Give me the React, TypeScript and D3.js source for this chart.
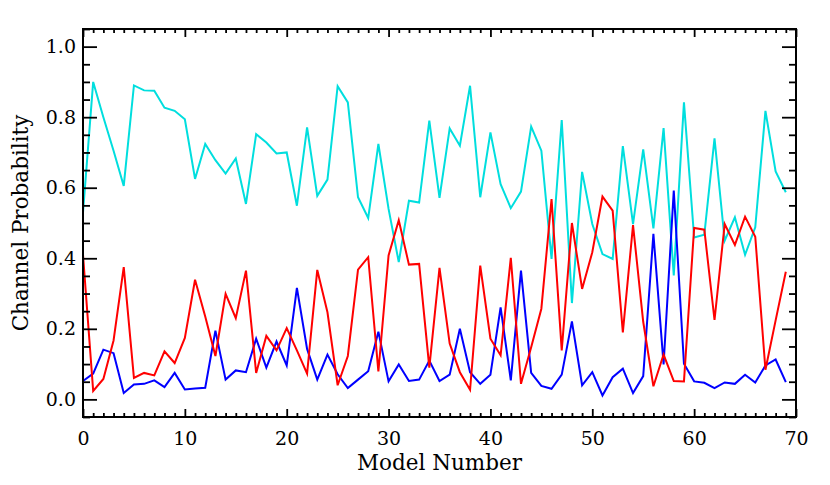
import * as d3 from "d3";
import { useEffect, useRef } from "react";

// probability of each channel per model (models 0..69)
const cyanSeries = [
  0.53, 0.9, 0.8, 0.705, 0.605, 0.89, 0.876, 0.875, 0.827, 0.818,
  0.794, 0.625, 0.724, 0.678, 0.64, 0.683, 0.554, 0.752, 0.728, 0.697,
  0.7, 0.549, 0.771, 0.577, 0.623, 0.888, 0.842, 0.573, 0.514, 0.724,
  0.54, 0.389, 0.563, 0.558, 0.79, 0.571, 0.768, 0.719, 0.889, 0.573,
  0.757, 0.61, 0.542, 0.589, 0.773, 0.705, 0.398, 0.792, 0.273, 0.645,
  0.497, 0.412, 0.398, 0.718, 0.497, 0.709, 0.485, 0.769, 0.351, 0.842,
  0.459, 0.467, 0.74, 0.45, 0.516, 0.41, 0.488, 0.818, 0.646, 0.587,
];
const redSeries = [
  0.41, 0.024, 0.058, 0.167, 0.375, 0.061, 0.075, 0.068, 0.136, 0.103,
  0.174, 0.339, 0.235, 0.123, 0.299, 0.23, 0.365, 0.075, 0.18, 0.139,
  0.202, 0.139, 0.073, 0.367, 0.247, 0.04, 0.123, 0.368, 0.403, 0.079,
  0.408, 0.508, 0.382, 0.384, 0.09, 0.373, 0.158, 0.077, 0.027, 0.379,
  0.172, 0.125, 0.401, 0.044, 0.148, 0.257, 0.568, 0.139, 0.5, 0.313,
  0.417, 0.575, 0.535, 0.19, 0.494, 0.22, 0.037, 0.127, 0.052, 0.051,
  0.486, 0.481, 0.225, 0.497, 0.438, 0.518, 0.461, 0.084, 0.224, 0.362,
];
const blueSeries = [
  0.052, 0.073, 0.141, 0.131, 0.018, 0.042, 0.044, 0.054, 0.035, 0.075,
  0.028, 0.031, 0.033, 0.195, 0.056, 0.082, 0.077, 0.172, 0.09, 0.164,
  0.096, 0.316, 0.143, 0.056, 0.127, 0.071, 0.032, 0.056, 0.08, 0.192,
  0.051, 0.099, 0.052, 0.056, 0.11, 0.052, 0.07, 0.2, 0.077, 0.044,
  0.07, 0.261, 0.054, 0.365, 0.075, 0.038, 0.03, 0.07, 0.221, 0.04,
  0.077, 0.011, 0.063, 0.087, 0.018, 0.066, 0.469, 0.099, 0.592, 0.101,
  0.051, 0.047, 0.032, 0.048, 0.044, 0.07, 0.048, 0.096, 0.113, 0.049,
];

const xMajorTicks = [0, 10, 20, 30, 40, 50, 60, 70];
const yMajorTicks = [0, 0.2, 0.4, 0.6, 0.8, 1.0];

const series = [
  { name: "cyan", values: cyanSeries, color: "#00dede" },
  { name: "blue", values: blueSeries, color: "#0000ff" },
  { name: "red", values: redSeries, color: "#ff0000" },
];

const W = 830;
const H = 485;
const FONT = "'DejaVu Serif', serif";

export default function App() {
  const svgRef = useRef<SVGSVGElement>(null);

  useEffect(() => {
    if (!svgRef.current) return;
    const svg = d3.select(svgRef.current);
    svg.selectAll("*").remove();

    const left = 83;
    const right = 796;
    const top = 29;
    const bottom = 417;

    const x = d3.scaleLinear().domain([0, 70]).range([left, right]);
    const y = d3.scaleLinear().domain([-0.05, 1.05]).range([bottom, top]);

    const xMinor = d3.range(0, 71, 1).filter((v) => v % 10 !== 0);
    const yMinor = d3.range(-0.05, 1.051, 0.05).map((v) => +v.toFixed(2)).filter((v) => Math.abs(v * 5 - Math.round(v * 5)) > 1e-6);

    const styleAxis = (g: any) => {
      g.select(".domain").remove();
      g.selectAll(".tick line").attr("stroke", "#000").attr("stroke-width", 1.8);
      g.selectAll("text").attr("fill", "#000").attr("font-family", FONT).attr("font-size", 19);
    };

    // lines
    const line = d3
      .line<number>()
      .x((_, i) => x(i))
      .y((d) => y(d));

    series.forEach((s) => {
      svg
        .append("path")
        .datum(s.values)
        .attr("fill", "none")
        .attr("stroke", s.color)
        .attr("stroke-width", 2)
        .attr("stroke-linejoin", "miter")
        .attr("d", line);
    });

    // left axis
    svg.append("g").attr("transform", `translate(${left},0)`)
      .call(d3.axisLeft(y).tickValues(yMajorTicks).tickSize(-14).tickPadding(7).tickFormat(d3.format(".1f")))
      .call(styleAxis);
    svg.append("g").attr("transform", `translate(${left},0)`)
      .call(d3.axisLeft(y).tickValues(yMinor).tickSize(-7).tickFormat(() => ""))
      .call(styleAxis);
    // right axis
    svg.append("g").attr("transform", `translate(${right},0)`)
      .call(d3.axisRight(y).tickValues(yMajorTicks).tickSize(-14).tickFormat(() => ""))
      .call(styleAxis);
    svg.append("g").attr("transform", `translate(${right},0)`)
      .call(d3.axisRight(y).tickValues(yMinor).tickSize(-7).tickFormat(() => ""))
      .call(styleAxis);
    // bottom axis
    svg.append("g").attr("transform", `translate(0,${bottom})`)
      .call(d3.axisBottom(x).tickValues(xMajorTicks).tickSize(-8).tickPadding(15).tickFormat(d3.format("d")))
      .call(styleAxis);
    svg.append("g").attr("transform", `translate(0,${bottom})`)
      .call(d3.axisBottom(x).tickValues(xMinor).tickSize(-4).tickFormat(() => ""))
      .call(styleAxis);
    // top axis
    svg.append("g").attr("transform", `translate(0,${top})`)
      .call(d3.axisTop(x).tickValues(xMajorTicks).tickSize(-8).tickFormat(() => ""))
      .call(styleAxis);
    svg.append("g").attr("transform", `translate(0,${top})`)
      .call(d3.axisTop(x).tickValues(xMinor).tickSize(-4).tickFormat(() => ""))
      .call(styleAxis);

    // frame
    svg.append("rect")
      .attr("x", left)
      .attr("y", top)
      .attr("width", right - left)
      .attr("height", bottom - top)
      .attr("fill", "none")
      .attr("stroke", "#000")
      .attr("stroke-width", 2);

    // axis titles
    svg.append("text")
      .attr("x", (left + right) / 2)
      .attr("y", 470)
      .attr("text-anchor", "middle")
      .attr("font-family", FONT)
      .attr("font-size", 21.5)
      .attr("fill", "#000")
      .text("Model Number");

    svg.append("text")
      .attr("transform", `translate(28,${(top + bottom) / 2}) rotate(-90)`)
      .attr("text-anchor", "middle")
      .attr("font-family", FONT)
      .attr("font-size", 21.5)
      .attr("fill", "#000")
      .text("Channel Probability");
  }, []);

  return (
    <div style={{ position: "fixed", left: 0, top: 0, background: "#fff" }}>
      <svg ref={svgRef} width={W} height={H} style={{ display: "block" }} />
    </div>
  );
}
